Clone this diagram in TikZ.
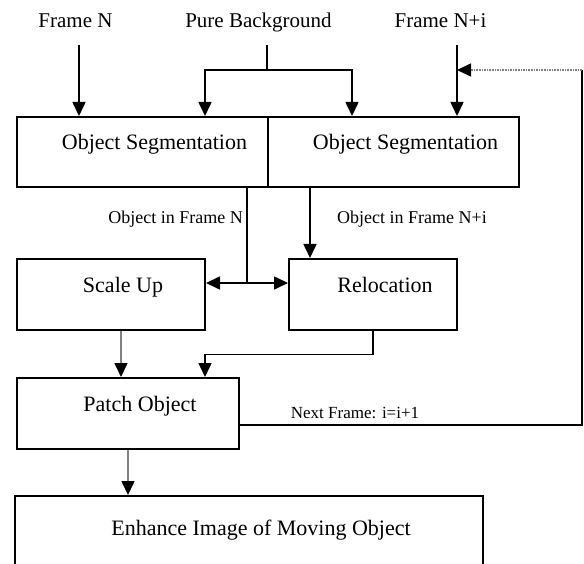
\documentclass[tikz,border=0pt]{standalone}
\usepackage{fontspec}
\setmainfont{Liberation Serif}
\usepackage{tikz}
\usetikzlibrary{positioning, arrows.meta}

\begin{document}
\begin{tikzpicture}[
    x=1pt, y=-1pt,
    blk/.style={draw, line width=2pt, rectangle, inner sep=0pt,
                font=\fontsize{22}{24}\selectfont, text height=16pt, text depth=21pt,
                execute at begin node={\hspace*{24pt}}},
    src/.style={font=\fontsize{21}{24}\selectfont, text height=14pt, text depth=5pt,
                inner xsep=0pt, inner ysep=12pt},
    tag/.style={font=\fontsize{18}{20}\selectfont, inner sep=0pt},
    link/.style={line width=1.6pt},
    arr/.style={line width=1.6pt, -{Triangle[length=14pt, width=13pt, color=black]}},
    grayarr/.style={arr, gray},
]
\useasboundingbox (0,0) rectangle (584,564);
\clip (0,0) rectangle (584,564);

% === inputs ===
\node[src] (fN)  at (75.5,23.5)  {Frame N};
\node[src] (pb)  at (258.5,23.5) {Pure Background};
\node[src] (fNi) at (440.5,23.5) {Frame N+i};

% === blocks ===
\node[blk, minimum width=251pt, minimum height=70pt] (segL)  at (142.5,152) {Object Segmentation};
\node[blk, minimum width=251pt, minimum height=70pt] (segR)  at (393.5,152) {Object Segmentation};
\node[blk, minimum width=188pt, minimum height=71pt] (scale) at (111,294.5) {Scale Up};
\node[blk, minimum width=168pt, minimum height=71pt] (reloc) at (373,294.5) {Relocation};
\node[blk, minimum width=222pt, minimum height=71pt] (patch) at (128,413.5) {Patch Object};
\node[blk, minimum width=468pt, minimum height=84pt] (enh)   at (249,538)   {Enhance Image of Moving Object};

% === into segmentation ===
\draw[arr] ([xshift=3.5pt]fN.south) -- ([xshift=3.5pt]fN.south |- segL.north);
\coordinate (split) at (267,70);
\draw[link] (pb.south -| split) -- (split);
\draw[arr] (split) -| ([xshift=62.5pt]segL.north);
\draw[arr] (split) -| ([xshift=-41.5pt]segR.north);
\draw[arr] ([xshift=16.5pt]fNi.south) -- ([xshift=16.5pt]fNi.south |- segR.north);

% === segmented objects ===
\coordinate (fork) at (247,283);
\draw[link] (fork |- segL.south) -- (fork);
\draw[arr] (fork) -- (fork -| scale.east);
\draw[arr] (fork) -- (fork -| reloc.west);
\node[tag, anchor=base east] (objN) at (243,224) {Object in Frame N};
\draw[arr] ([xshift=22pt]reloc.north west |- segR.south) -- ([xshift=22pt]reloc.north west);
\node[tag, anchor=base west] (objNi) at (337,224) {Object in Frame N+i};

% === patching ===
\draw[grayarr] ([xshift=10pt]scale.south) -- ([xshift=10pt]scale.south |- patch.north);
\draw[arr] (reloc.south) -- ++(0,23.5) -| ([xshift=77pt]patch.north);
\draw[grayarr] (patch.south) -- (patch.south |- enh.north);

% === next frame loop ===
\coordinate (loop) at (582,70);
\draw[link] ([yshift=-11.5pt]patch.east) -| (loop);
\node[tag, font=\fontsize{17}{19}\selectfont, anchor=base] (next) at (355,418) {Next Frame: i=i+1};
\draw[arr, gray, densely dotted] (loop) -- ([xshift=16.5pt]fNi.south |- loop);

\end{tikzpicture}
\end{document}
